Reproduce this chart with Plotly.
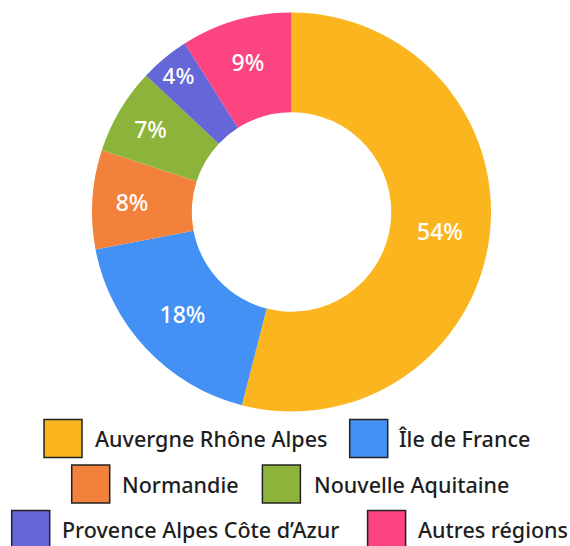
import plotly.graph_objects as go

regions = ["Auvergne Rhône Alpes", "Île de France", "Normandie",
           "Nouvelle Aquitaine", "Provence Alpes Côte d’Azur", "Autres régions"]
shares = [54, 18, 8, 7, 4, 9]
colors = ["#FBB51F", "#4491F6", "#F2823B", "#8DB43A", "#6566D7", "#FC4580"]

W, H = 570, 546
FONT = "Noto Sans"

def px(x):
    return x / W

def py(y):
    return 1 - y / H

cx, cy, r = 291.5, 212, 199.5

fig = go.Figure(go.Pie(
    labels=regions, values=shares, sort=False, direction="clockwise",
    rotation=0, hole=0.5,
    marker=dict(colors=colors, line=dict(width=0)),
    textinfo="percent", texttemplate="%{percent:.0%}",
    textposition="inside", insidetextorientation="horizontal",
    textfont=dict(color="white", size=23, family=FONT, weight=500),
    showlegend=False, hoverinfo="label+percent",
    domain=dict(x=[px(cx - r), px(cx + r)], y=[py(cy + r), py(cy - r)]),
))

# manual legend layout (box left x, text left x, row center y)
legend_pos = [
    (44, 93, 438.5), (349.7, 396, 438.5),
    (71.7, 119.7, 484), (262.4, 311.5, 484),
    (11.7, 59.7, 529.5), (367.6, 416.4, 529.5),
]
shapes = []
annotations = []
for (bx, tx, ry), name, col in zip(legend_pos, regions, colors):
    shapes.append(dict(type="rect", xref="paper", yref="paper",
                       x0=px(bx), x1=px(bx + 38), y0=py(ry + 19), y1=py(ry - 19),
                       fillcolor=col, line=dict(color="#222222", width=1.5)))
    annotations.append(dict(text=name, xref="paper", yref="paper",
                            x=px(tx), y=py(ry), xanchor="left", yanchor="middle",
                            showarrow=False,
                            font=dict(size=21.5, color="#1e1e1e", family=FONT, weight=500)))

fig.update_layout(
    width=W, height=H, margin=dict(l=0, r=0, t=0, b=0),
    paper_bgcolor="white", plot_bgcolor="white",
    shapes=shapes, annotations=annotations,
    font=dict(family=FONT),
)
fig.write_html("out.html", config={"displayModeBar": False},
               post_script="document.body.style.margin='0';")
